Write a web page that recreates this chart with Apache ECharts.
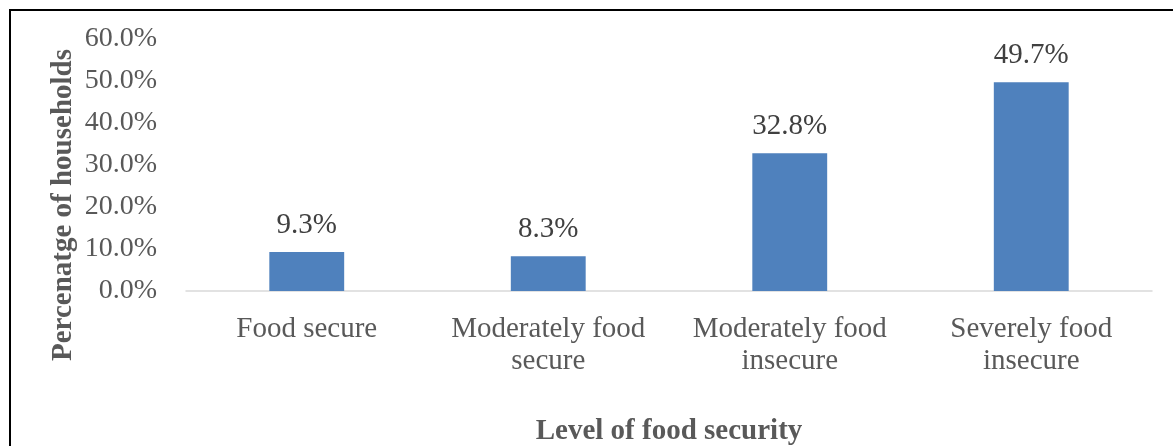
<!DOCTYPE html>
<html>
<head>
<meta charset="utf-8">
<script src="https://cdn.jsdelivr.net/npm/echarts@6/dist/echarts.min.js"></script>
<style>
html,body{margin:0;padding:0;background:#fff;overflow:hidden;}
#frame{position:absolute;left:9px;top:9px;width:1200px;height:500px;border-left:2px solid #000;border-top:2px solid #000;box-sizing:border-box;}
#main{position:absolute;left:0;top:0;width:1173px;height:446px;}
</style>
</head>
<body>
<div id="frame"></div>
<div id="main"></div>
<script>
const categories = ["Food secure", "Moderately food\nsecure", "Moderately food\ninsecure", "Severely food\ninsecure"];
const values = [9.3, 8.3, 32.8, 49.7];
const yTicks = [0, 10, 20, 30, 40, 50, 60];
const yTitle = 'Percenatge of households';
const xTitle = 'Level of food security';

const chart = echarts.init(document.getElementById('main'));
const font = '"Liberation Serif", "Times New Roman", serif';
chart.setOption({
  animation: false,
  grid: {left: 186, right: 21, top: 39, bottom: 155, containLabel: false, outerBoundsMode: 'none'},
  graphic: [{
    type: 'text',
    x: 64, y: 205,
    rotation: Math.PI / 2,
    style: {text: yTitle, fontFamily: font, fontSize: 29, fontWeight: 'bold', fill: '#595959',
      align: 'center', verticalAlign: 'middle'}
  }],
  xAxis: {
    type: 'category',
    data: categories,
    name: xTitle,
    nameLocation: 'middle',
    nameGap: 126,
    nameTextStyle: {fontFamily: font, fontSize: 29, fontWeight: 'bold', color: '#595959'},
    axisLine: {lineStyle: {color: '#d9d9d9', width: 1.5}},
    axisTick: {show: false},
    axisLabel: {interval: 0, fontFamily: font, fontSize: 29, color: '#595959', margin: 22, lineHeight: 32}
  },
  yAxis: {
    type: 'value',
    min: yTicks[0], max: yTicks[yTicks.length - 1], interval: 10,
    splitLine: {show: false},
    axisLine: {show: false},
    axisTick: {show: false},
    axisLabel: {fontFamily: font, fontSize: 28, color: '#595959', margin: 29,
      formatter: v => v.toFixed(1) + '%'}
  },
  series: [{
    type: 'bar',
    data: values,
    barWidth: '31%',
    itemStyle: {color: '#4f81bd'},
    label: {show: true, position: 'top', distance: 12, fontFamily: font, fontSize: 29, color: '#404040',
      formatter: p => p.value.toFixed(1) + '%'}
  }]
});
</script>
</body>
</html>
